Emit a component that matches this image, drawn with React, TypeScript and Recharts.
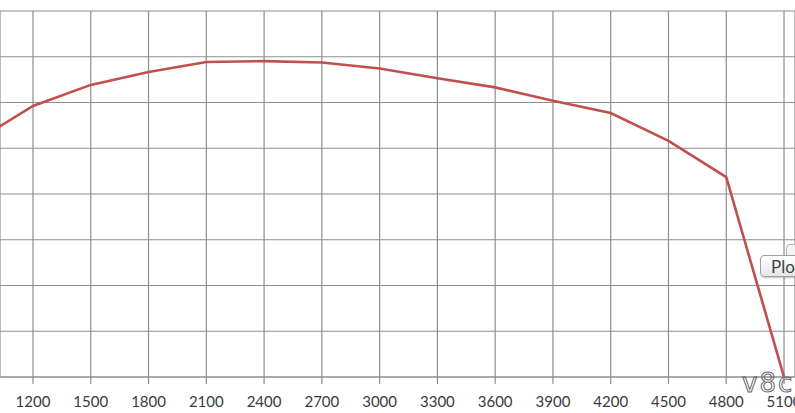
import { LineChart, Line, XAxis, YAxis, CartesianGrid } from 'recharts'

const rpm = [900, 1200, 1500, 1800, 2100, 2400, 2700, 3000, 3300, 3600, 3900, 4200, 4500, 4800, 5100]
const output = [103, 118.5, 127.7, 133.3, 137.7, 138.1, 137.5, 134.9, 130.6, 126.6, 120.8, 115.4, 103.2, 87.4, 0]

const majorTicks = [1200, 1500, 1800, 2100, 2400, 2700, 3000, 3300, 3600, 3900, 4200, 4500, 4800, 5100]
const minorTicks = [1050, 1350, 1650, 1950, 2250, 2550, 2850, 3150, 3450, 3750, 4050, 4350, 4650, 4950]
const yTicks = [0, 20, 40, 60, 80, 100, 120, 140, 160]

const data = rpm.map((r, i) => ({ rpm: r, value: output[i] }))

const gridColor = '#8e8e8e'

export default function App() {
  return (
    <div style={{ position: 'absolute', left: 0, top: 0, width: 795, height: 413, overflow: 'hidden', background: '#fff' }}>
      <LineChart width={795} height={413} data={data} margin={{ top: 11, right: 0, left: 0, bottom: 0 }}>
        <CartesianGrid stroke={gridColor} strokeWidth={1.2} horizontalValues={yTicks} />
        <XAxis
          dataKey="rpm"
          type="number"
          domain={[1028.6, 5157]}
          allowDataOverflow
          ticks={majorTicks}
          interval={0}
          height={36}
          tickSize={7}
          tickMargin={12}
          stroke={gridColor}
          tickLine={{ stroke: gridColor, strokeWidth: 1.2 }}
          tick={{ fill: '#3a3a3a', fontSize: 15, fontFamily: 'Lato, sans-serif' }}
        />
        <XAxis
          xAxisId="minor"
          dataKey="rpm"
          type="number"
          domain={[1028.6, 5157]}
          allowDataOverflow
          ticks={minorTicks}
          interval={0}
          mirror
          axisLine={false}
          tick={false}
          tickSize={4}
          tickLine={{ stroke: gridColor }}
        />
        <YAxis hide domain={[0, 160]} ticks={yTicks} allowDataOverflow />
        <Line
          type="linear"
          dataKey="value"
          stroke="#c0504d"
          strokeWidth={2.6}
          dot={false}
          isAnimationActive={false}
        />
      </LineChart>
      <div
        style={{
          position: 'absolute', left: 786, top: 244, width: 30, height: 20,
          border: '1px solid #b5b5b5', borderRadius: 4, background: '#f4f4f4',
        }}
      />
      <div
        style={{
          position: 'absolute', left: 760, top: 255, width: 90, height: 22,
          border: '1px solid #a0a0a0', borderRadius: 4,
          background: 'linear-gradient(#ffffff, #e6e6e6)',
          boxShadow: '1px 1px 2px rgba(0,0,0,0.25)',
          fontFamily: 'Lato, sans-serif', fontSize: 17, color: '#444',
          lineHeight: '22px', paddingLeft: 10, boxSizing: 'border-box', whiteSpace: 'nowrap',
        }}
      >
        Plot Area
      </div>
      <div
        style={{
          position: 'absolute', left: 742, top: 368, fontFamily: '"DejaVu Sans", sans-serif',
          fontSize: 26, color: 'transparent', WebkitTextStroke: '1px #666', letterSpacing: 2,
        }}
      >
        v8c
      </div>
    </div>
  )
}
